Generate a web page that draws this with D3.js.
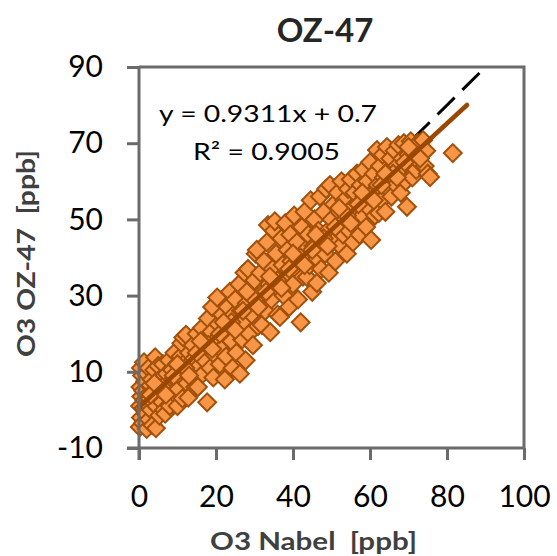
<!DOCTYPE html>
<html>
<head>
<meta charset="utf-8">
<script src="https://cdn.jsdelivr.net/npm/d3@7"></script>
<style>
  body { margin: 0; background: #fff; }
  text { font-family: Lato, "Open Sans", sans-serif; white-space: pre; }
</style>
</head>
<body>
<script>
// O3 readings, Nabel reference (x) vs OZ-47 sensor (y), ppb
const nabel = [
  0.2, 0.5, 0.3, 0.6, 0.4, 0.8, 0.5, 1.0, 1.2, 1.4, 1.1, 1.6, 1.3, 1.8, 2.0, 2.1, 2.3, 2.0, 2.5, 2.6,
  2.8, 3.0, 3.1, 3.3, 3.5, 3.6, 3.8, 4.0, 4.2, 4.4, 4.5, 4.7, 4.9, 5.0, 5.3, 5.5, 5.8, 6.0, 6.2, 6.5,
  6.8, 7.0, 7.2, 7.5, 7.8, 8.0, 8.3, 8.6, 8.9, 9.2, 9.5, 9.8, 10.0, 10.2, 10.5, 10.8, 11.0, 11.3, 11.5, 11.8,
  12.0, 12.2, 12.5, 12.8, 13.0, 13.3, 13.6, 14.0, 14.3, 14.6, 15.0, 15.3, 15.6, 16.0, 16.3, 16.6, 17.0, 17.3, 17.7, 17.9,
  18.2, 18.5, 18.8, 19.0, 19.3, 19.6, 20.0, 20.3, 20.6, 21.0, 21.3, 21.6, 22.0, 22.3, 22.6, 23.0, 23.3, 23.6, 24.0, 24.3,
  24.6, 25.0, 25.3, 25.6, 26.0, 26.2, 26.5, 26.8, 27.0, 27.4, 27.7, 28.0, 28.3, 28.6, 29.0, 29.3, 29.6, 30.0, 30.3, 30.6,
  30.9, 31.2, 31.5, 31.9, 32.2, 32.5, 32.8, 33.2, 33.5, 33.8, 34.1, 34.4, 34.7, 35.0, 35.3, 35.6, 36.0, 36.3, 36.6, 37.0,
  37.3, 37.6, 38.0, 38.3, 38.6, 39.0, 39.3, 39.6, 40.0, 40.3, 40.6, 41.0, 41.3, 41.6, 42.0, 42.3, 42.6, 43.0, 43.3, 43.6,
  44.0, 44.3, 44.6, 45.0, 45.3, 45.6, 46.0, 46.2, 46.6, 47.0, 47.3, 47.6, 48.0, 48.3, 48.6, 49.0, 49.3, 49.6, 50.0, 50.3,
  50.6, 51.0, 51.3, 51.6, 52.0, 52.3, 52.6, 53.0, 53.3, 53.6, 54.0, 54.3, 54.6, 55.0, 55.3, 55.6, 56.0, 56.3, 56.6, 57.0,
  57.3, 57.6, 58.0, 58.3, 58.6, 59.0, 59.3, 59.6, 60.0, 60.3, 60.6, 61.0, 61.3, 61.8, 62.0, 62.3, 62.6, 63.0, 63.3, 63.6,
  64.0, 64.4, 64.7, 65.0, 65.3, 65.6, 66.0, 66.4, 66.7, 67.0, 67.4, 67.7, 68.0, 68.4, 68.8, 69.0, 69.3, 69.6, 70.0, 70.3,
  70.6, 71.0, 71.3, 71.7, 72.0, 72.4, 72.8, 73.2, 73.8, 74.2, 74.6, 75.0, 75.6, 81.5,
  3, 6, 9, 12, 15, 18, 21, 24, 27, 30, 33, 36, 39, 42, 45, 48, 51, 54, 57, 60, 63, 66, 69, 72,
  4, 7, 10, 13, 16, 19, 22, 25, 28, 31, 34, 37, 40, 43, 46, 49, 52, 55, 58, 61, 64, 67, 70, 73
];
const oz47 = [
  -4.5, -2, 1, 3.5, 6, 9, 11, -3.5, 0.5, 2.5, 5, 7.5, 12.5, -1, -5, 1.5, 4, 9.5, 11, -2.5,
  3, 6.5, 0, 8, -4, 2, 5, 10.5, 13.8, -4.8, 1, 7, 3.5, 11.5, -1.5, 5, 8.5, 2, 12, 0,
  -1, 6, 9.5, 3.5, 13, 1, 7.5, 10.5, 4.5, 15, 8, 12, 1, 5.5, 9, 14, 17.5, 3, 19, 10,
  12.5, 19.7, 7, 3.2, 15, 11, 9, 17, 13.5, 6, 20, 6, 11.5, 15.5, 21.5, 9.5, 13, 18, 2, 24,
  16, 11, 20.5, 27, 8.5, 14.5, 18.5, 29.5, 22.5, 12, 16, 25, 20, 8, 14, 27, 22, 31, 18, 11,
  25, 29, 15, 21, 33, 9.5, 26, 18.5, 23, 36, 13, 28, 37, 20, 31, 25, 17, 34, 41, 42,
  22, 28, 36, 22.3, 31, 39, 26, 44, 48.5, 33, 20.4, 29, 37, 47, 49.5, 41, 25, 33, 24.4, 45,
  38, 30, 49, 35, 42, 27, 46, 39, 33, 51, 37, 44, 29, 40, 23, 48, 35, 52, 42, 34.9,
  46, 38, 55, 31, 43, 50, 40, 33.3, 47, 56, 37, 44, 52, 41, 58, 47, 36, 59, 50, 44,
  54, 39, 48, 57, 52, 43, 60, 46, 55, 50, 41, 58, 47, 60.5, 53, 44, 57, 49, 62, 54,
  46, 59, 51, 63, 56, 48, 60, 53, 65, 44.6, 57, 62, 51, 68.2, 59, 51.7, 64, 55, 67, 61,
  52, 69, 58, 63, 66, 56, 61, 68, 59, 64, 69.5, 62, 57, 66, 70, 63, 60, 53.3, 67, 64,
  70.5, 61, 66, 68, 63, 70, 65, 67, 70.8, 64, 68, 62, 61.1, 67.4,
  4, 6, 9, 11, 15, 17, 20, 23, 26, 29, 31, 34, 37, 40, 42, 45, 48, 51, 54, 56, 59, 62, 65, 67,
  7, 4, 12, 9, 18, 16, 23, 21, 31, 27, 35, 32, 41, 38, 46, 43, 53, 49, 57, 55, 62, 61, 69, 66
];

// trendline and 1:1 reference
const fitSlope = 0.9311;
const fitIntercept = 0.7;
const fitRange = [0, 85.2];
const oneToOneRange = [0, 88.8];

const xTicks = [0, 20, 40, 60, 80, 100];
const yTicks = [-10, 10, 30, 50, 70, 90];

const width = 557;
const height = 556;
const plotLeft = 139, plotRight = 524, plotTop = 67, plotBottom = 448;
const tickLen = 12;
const axisColor = '#6b6b6b';
const markerFill = '#f79646';
const markerStroke = '#a3500b';
const fitColor = '#9a4703';

const points = nabel.map((x, i) => [x, oz47[i]]);

const svg = d3.select('body')
  .append('svg')
  .attr('width', width)
  .attr('height', height);

const xScale = d3.scaleLinear().domain([0, 100]).range([plotLeft, plotRight]);
const yScale = d3.scaleLinear().domain([-10, 90]).range([plotBottom, plotTop]);

// plot frame (top and right sides)
svg.append('path')
  .attr('d', `M${plotLeft},${plotTop}H${plotRight}V${plotBottom}`)
  .attr('fill', 'none')
  .attr('stroke', axisColor)
  .attr('stroke-width', 3);

// 1:1 line sits under the markers
svg.append('line')
  .attr('x1', xScale(oneToOneRange[0]))
  .attr('y1', yScale(oneToOneRange[0]))
  .attr('x2', xScale(oneToOneRange[1]))
  .attr('y2', yScale(oneToOneRange[1]))
  .attr('stroke', '#000')
  .attr('stroke-width', 3)
  .attr('stroke-dasharray', '24,11');

const diamond = d3.symbol().type(d3.symbolSquare).size(160);

svg.append('g')
  .selectAll('path')
  .data(points)
  .enter()
  .append('path')
  .attr('d', diamond)
  .attr('transform', d => `translate(${xScale(d[0])},${yScale(d[1])}) rotate(45)`)
  .attr('fill', markerFill)
  .attr('stroke', markerStroke)
  .attr('stroke-width', 2);

svg.append('line')
  .attr('x1', xScale(fitRange[0]))
  .attr('y1', yScale(fitSlope * fitRange[0] + fitIntercept))
  .attr('x2', xScale(fitRange[1]))
  .attr('y2', yScale(fitSlope * fitRange[1] + fitIntercept))
  .attr('stroke', fitColor)
  .attr('stroke-width', 4.5)
  .attr('stroke-linecap', 'round');

const xAxis = d3.axisBottom(xScale).tickValues(xTicks).tickFormat(d => String(d))
  .tickSize(tickLen).tickPadding(26).tickSizeOuter(0);
const yAxis = d3.axisLeft(yScale).tickValues(yTicks).tickFormat(d => String(d))
  .tickSize(tickLen).tickPadding(24).tickSizeOuter(0);

const gx = svg.append('g')
  .attr('transform', 'translate(0,' + plotBottom + ')')
  .call(xAxis);

const gy = svg.append('g')
  .attr('transform', 'translate(' + plotLeft + ',0)')
  .call(yAxis);

[gx, gy].forEach(g => {
  g.selectAll('.domain').attr('stroke', axisColor).attr('stroke-width', 3);
  g.selectAll('.tick line').attr('stroke', axisColor).attr('stroke-width', 3);
  g.selectAll('.tick text')
    .attr('fill', '#000')
    .style('font-family', 'Lato, sans-serif')
    .style('font-size', '30px');
});
gy.select('.domain').attr('d', `M0,${plotTop}V${plotBottom + tickLen}`);
gx.select('.domain').attr('d', `M${plotLeft - tickLen},0H${plotRight}`);

svg.append('text')
  .attr('x', 325)
  .attr('y', 42)
  .attr('text-anchor', 'middle')
  .style('font-size', '33px')
  .style('font-weight', 'bold')
  .attr('fill', '#262626')
  .text('OZ-47');

svg.append('text')
  .attr('x', 210)
  .attr('y', 550)
  .attr('textLength', 207)
  .attr('lengthAdjust', 'spacingAndGlyphs')
  .style('font-size', '25px')
  .style('font-weight', 'bold')
  .attr('fill', '#404040')
  .text('O3 Nabel  [ppb]');

svg.append('text')
  .attr('transform', 'translate(35,357) rotate(-90)')
  .attr('textLength', 207)
  .attr('lengthAdjust', 'spacingAndGlyphs')
  .style('font-size', '25px')
  .style('font-weight', 'bold')
  .attr('fill', '#404040')
  .text('O3 OZ-47  [ppb]');

svg.append('text')
  .attr('x', 159)
  .attr('y', 122)
  .attr('textLength', 218)
  .attr('lengthAdjust', 'spacingAndGlyphs')
  .style('font-size', '23px')
  .attr('fill', '#000')
  .text('y = 0.9311x + 0.7');

svg.append('text')
  .attr('x', 193)
  .attr('y', 160)
  .attr('textLength', 147)
  .attr('lengthAdjust', 'spacingAndGlyphs')
  .style('font-size', '23px')
  .attr('fill', '#000')
  .text('R² = 0.9005');
</script>
</body>
</html>
